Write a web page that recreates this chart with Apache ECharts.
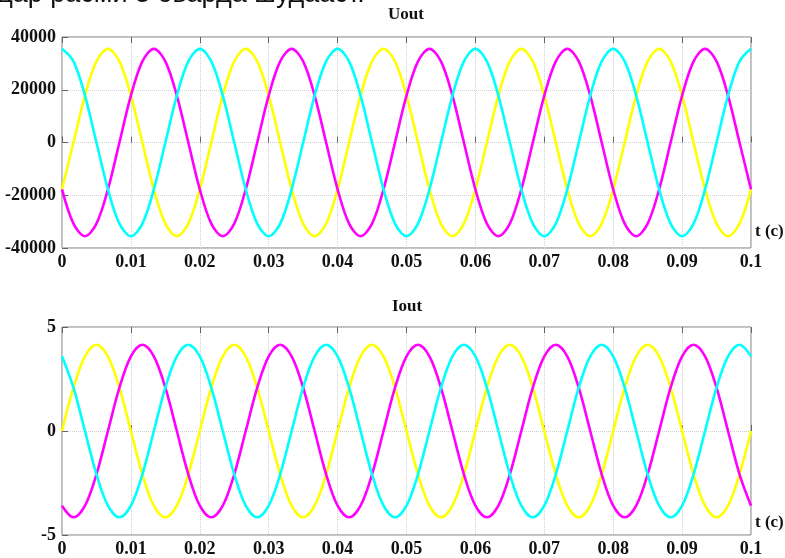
<!DOCTYPE html>
<html>
<head>
<meta charset="utf-8">
<script src="https://cdn.jsdelivr.net/npm/echarts@6/dist/echarts.min.js"></script>
<style>
  html, body { margin: 0; padding: 0; background: #fff; }
  #chart { width: 785px; height: 558px; }
</style>
</head>
<body>
<div id="chart"></div>
<script>
// Sample times, s
const times = [
  0, 0.001667, 0.003333, 0.005, 0.006667, 0.008333, 0.01, 0.011667, 0.013333, 0.015, 0.016667, 0.018333,
  0.02, 0.021667, 0.023333, 0.025, 0.026667, 0.028333, 0.03, 0.031667, 0.033333, 0.035, 0.036667, 0.038333,
  0.04, 0.041667, 0.043333, 0.045, 0.046667, 0.048333, 0.05, 0.051667, 0.053333, 0.055, 0.056667, 0.058333,
  0.06, 0.061667, 0.063333, 0.065, 0.066667, 0.068333, 0.07, 0.071667, 0.073333, 0.075, 0.076667, 0.078333,
  0.08, 0.081667, 0.083333, 0.085, 0.086667, 0.088333, 0.09, 0.091667, 0.093333, 0.095, 0.096667, 0.098333,
  0.1
];

// Output voltage, three phases
const uoutA = [
  -17750, 0, 17750, 30740, 35500, 30740, 17750, 0, -17750, -30740, -35500, -30740,
  -17750, 0, 17750, 30740, 35500, 30740, 17750, 0, -17750, -30740, -35500, -30740,
  -17750, 0, 17750, 30740, 35500, 30740, 17750, 0, -17750, -30740, -35500, -30740,
  -17750, 0, 17750, 30740, 35500, 30740, 17750, 0, -17750, -30740, -35500, -30740,
  -17750, 0, 17750, 30740, 35500, 30740, 17750, 0, -17750, -30740, -35500, -30740,
  -17750
];
const uoutB = [
  -17750, -30740, -35500, -30740, -17750, 0, 17750, 30740, 35500, 30740, 17750, 0,
  -17750, -30740, -35500, -30740, -17750, 0, 17750, 30740, 35500, 30740, 17750, 0,
  -17750, -30740, -35500, -30740, -17750, 0, 17750, 30740, 35500, 30740, 17750, 0,
  -17750, -30740, -35500, -30740, -17750, 0, 17750, 30740, 35500, 30740, 17750, 0,
  -17750, -30740, -35500, -30740, -17750, 0, 17750, 30740, 35500, 30740, 17750, 0,
  -17750
];
const uoutC = [
  35500, 30740, 17750, 0, -17750, -30740, -35500, -30740, -17750, 0, 17750, 30740,
  35500, 30740, 17750, 0, -17750, -30740, -35500, -30740, -17750, 0, 17750, 30740,
  35500, 30740, 17750, 0, -17750, -30740, -35500, -30740, -17750, 0, 17750, 30740,
  35500, 30740, 17750, 0, -17750, -30740, -35500, -30740, -17750, 0, 17750, 30740,
  35500, 30740, 17750, 0, -17750, -30740, -35500, -30740, -17750, 0, 17750, 30740,
  35500
];

// Output current, three phases
const ioutA = [
  0, 2.08, 3.59, 4.15, 3.59, 2.08, 0, -2.08, -3.59, -4.15, -3.59, -2.08,
  0, 2.08, 3.59, 4.15, 3.59, 2.08, 0, -2.08, -3.59, -4.15, -3.59, -2.08,
  0, 2.08, 3.59, 4.15, 3.59, 2.08, 0, -2.08, -3.59, -4.15, -3.59, -2.08,
  0, 2.08, 3.59, 4.15, 3.59, 2.08, 0, -2.08, -3.59, -4.15, -3.59, -2.08,
  0, 2.08, 3.59, 4.15, 3.59, 2.08, 0, -2.08, -3.59, -4.15, -3.59, -2.08,
  0
];
const ioutB = [
  -3.59, -4.15, -3.59, -2.08, 0, 2.08, 3.59, 4.15, 3.59, 2.08, 0, -2.08,
  -3.59, -4.15, -3.59, -2.08, 0, 2.08, 3.59, 4.15, 3.59, 2.08, 0, -2.08,
  -3.59, -4.15, -3.59, -2.08, 0, 2.08, 3.59, 4.15, 3.59, 2.08, 0, -2.08,
  -3.59, -4.15, -3.59, -2.08, 0, 2.08, 3.59, 4.15, 3.59, 2.08, 0, -2.08,
  -3.59, -4.15, -3.59, -2.08, 0, 2.08, 3.59, 4.15, 3.59, 2.08, 0, -2.08,
  -3.59
];
const ioutC = [
  3.59, 2.08, 0, -2.08, -3.59, -4.15, -3.59, -2.08, 0, 2.08, 3.59, 4.15,
  3.59, 2.08, 0, -2.08, -3.59, -4.15, -3.59, -2.08, 0, 2.08, 3.59, 4.15,
  3.59, 2.08, 0, -2.08, -3.59, -4.15, -3.59, -2.08, 0, 2.08, 3.59, 4.15,
  3.59, 2.08, 0, -2.08, -3.59, -4.15, -3.59, -2.08, 0, 2.08, 3.59, 4.15,
  3.59, 2.08, 0, -2.08, -3.59, -4.15, -3.59, -2.08, 0, 2.08, 3.59, 4.15,
  3.59
];

const titles = ['Uout', 'Iout'];
const axisName = 't (c)';
const captionText = 'дар расми 3 оварда шудааст.';

const phaseColors = ['#ffff00', '#ff00ff', '#00ffff'];
const labelFont = { fontFamily: 'Liberation Serif', fontWeight: 'bold', fontSize: 18, color: '#111' };

function pairs(vals) {
  return vals.map((v, i) => [times[i], v]);
}

function xAxes(gridIndex) {
  return [
    {
      type: 'value', gridIndex, position: 'bottom', min: 0, max: 0.1, interval: 0.01,
      axisLine: { show: false },
      axisTick: { show: true, inside: true, length: 6, lineStyle: { color: '#666' } },
      axisLabel: Object.assign({ margin: 5, formatter: v => String(+v.toFixed(2)) }, labelFont),
      splitLine: { show: true, lineStyle: { type: 'dotted', color: '#d0d0d0' } }
    },
    {
      type: 'value', gridIndex, position: 'top', min: 0, max: 0.1, interval: 0.01,
      axisLine: { show: false },
      axisTick: { show: true, inside: true, length: 6, lineStyle: { color: '#666' } },
      axisLabel: { show: false },
      splitLine: { show: false }
    }
  ];
}

function yAxis(gridIndex, min, max, interval) {
  return {
    type: 'value', gridIndex, min, max, interval,
    axisLine: { show: false },
    axisTick: { show: true, inside: true, length: 6, lineStyle: { color: '#666' } },
    axisLabel: Object.assign({ margin: 6, formatter: v => String(v) }, labelFont),
    splitLine: { show: true, lineStyle: { type: 'dotted', color: '#d0d0d0' } }
  };
}

function line(xi, yi, vals, color) {
  return {
    type: 'line', xAxisIndex: xi, yAxisIndex: yi, data: pairs(vals),
    showSymbol: false, smooth: 0.34, animation: false,
    lineStyle: { color, width: 2.6 }, silent: true
  };
}

const chart = echarts.init(document.getElementById('chart'), null, { renderer: 'canvas' });
chart.setOption({
  backgroundColor: '#fff',
  animation: false,
  grid: [
    { left: 62, top: 37, width: 689, height: 211, show: true, borderColor: '#7a7a7a', borderWidth: 1 },
    { left: 62, top: 327, width: 689, height: 211, show: true, borderColor: '#7a7a7a', borderWidth: 1 }
  ],
  xAxis: [...xAxes(0), ...xAxes(1)],
  yAxis: [yAxis(0, -40000, 40000, 20000), yAxis(1, -5, 5, 5)],
  series: [
    line(0, 0, uoutA, phaseColors[0]),
    line(0, 0, uoutB, phaseColors[1]),
    line(0, 0, uoutC, phaseColors[2]),
    line(2, 1, ioutA, phaseColors[0]),
    line(2, 1, ioutB, phaseColors[1]),
    line(2, 1, ioutC, phaseColors[2])
  ],
  graphic: [
    { type: 'text', left: -3, top: -19, style: { text: captionText, fontFamily: 'Liberation Sans', fontSize: 27, fill: '#111' } },
    { type: 'text', x: 406, y: 15, style: { text: titles[0], fontFamily: 'Liberation Serif', fontWeight: 'bold', fontSize: 17, fill: '#111', align: 'center', verticalAlign: 'middle' } },
    { type: 'text', x: 407, y: 307, style: { text: titles[1], fontFamily: 'Liberation Serif', fontWeight: 'bold', fontSize: 17, fill: '#111', align: 'center', verticalAlign: 'middle' } },
    { type: 'text', x: 755, y: 232, style: { text: axisName, fontFamily: 'Liberation Serif', fontWeight: 'bold', fontSize: 17, fill: '#111', align: 'left', verticalAlign: 'middle' } },
    { type: 'text', x: 755, y: 523, style: { text: axisName, fontFamily: 'Liberation Serif', fontWeight: 'bold', fontSize: 17, fill: '#111', align: 'left', verticalAlign: 'middle' } }
  ]
});
</script>
</body>
</html>
